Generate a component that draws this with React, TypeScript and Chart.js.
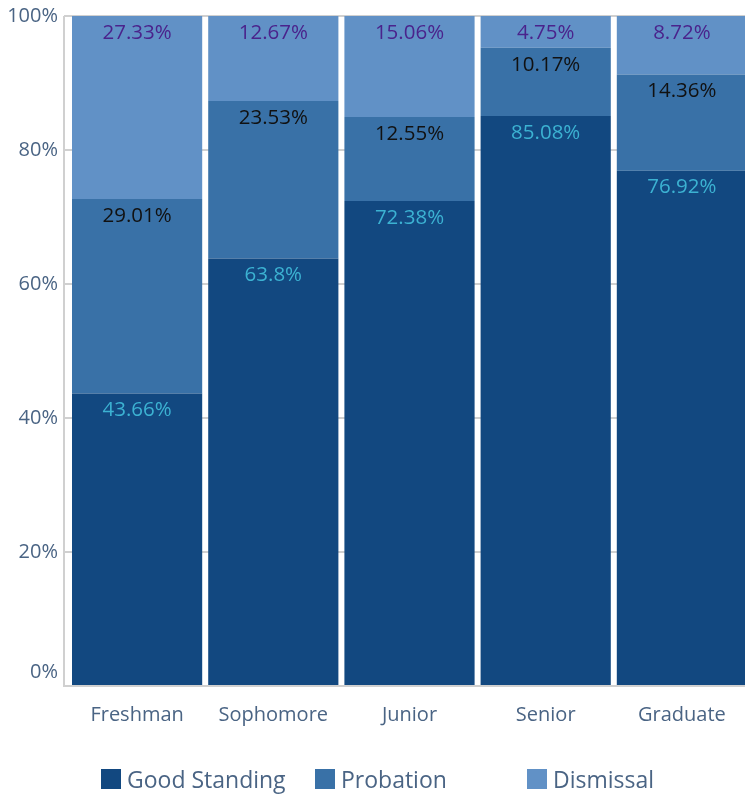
import React, { useEffect, useRef } from "react";
import { Chart, registerables } from "chart.js";

Chart.register(...registerables);

const categories = ["Freshman", "Sophomore", "Junior", "Senior", "Graduate"];
const seriesNames = ["Good Standing", "Probation", "Dismissal"];
const goodStanding = [43.66, 63.8, 72.38, 85.08, 76.92];
const probation = [29.01, 23.53, 12.55, 10.17, 14.36];
const dismissal = [27.33, 12.67, 15.06, 4.75, 8.72];
const yTickValues = [0, 20, 40, 60, 80, 100];

const barColors = ["#124880", "#3971a7", "#6191c6"];
const labelColors = ["#3cb2d2", "#111111", "#4a238c"];
const axisTextColor = "#4a6484";
const gridColor = "#d0d0d0";
const FONT = "'Open Sans', 'Noto Sans', sans-serif";

const segmentLabels = {
  id: "segmentLabels",
  afterDatasetsDraw(chart: any) {
    const ctx = chart.ctx;
    chart.data.datasets.forEach((ds: any, i: number) => {
      const meta = chart.getDatasetMeta(i);
      meta.data.forEach((bar: any, j: number) => {
        ctx.save();
        ctx.font = `20.5px ${FONT}`;
        ctx.fillStyle = labelColors[i];
        ctx.textAlign = "center";
        ctx.textBaseline = "middle";
        ctx.fillText(`${ds.data[j]}%`, bar.x, bar.y + 17);
        ctx.restore();
      });
    });
  },
};

const yAxisLine = {
  id: "yAxisLine",
  beforeDatasetsDraw(chart: any) {
    const { ctx, chartArea } = chart;
    ctx.save();
    ctx.fillStyle = gridColor;
    ctx.fillRect(chartArea.left - 6, chartArea.top, 2, chartArea.bottom - chartArea.top + 1);
    ctx.restore();
  },
};

export default function App() {
  const ref = useRef<HTMLCanvasElement | null>(null);

  useEffect(() => {
    if (!ref.current) return;
    const chart = new Chart(ref.current, {
      type: "bar",
      data: {
        labels: categories,
        datasets: [goodStanding, probation, dismissal].map((d, i) => ({
          label: seriesNames[i],
          data: d,
          backgroundColor: barColors[i],
          borderWidth: 0,
          barPercentage: 1,
          categoryPercentage: 130 / 136,
        })),
      },
      options: {
        responsive: false,
        animation: false,
        layout: { padding: { top: 16, bottom: 58, left: 0, right: 0 } },
        plugins: {
          legend: { display: false },
          tooltip: { enabled: false },
        },
        scales: {
          x: {
            stacked: true,
            grid: { display: false, drawTicks: false },
            border: { display: true, color: gridColor, width: 2 },
            ticks: { color: axisTextColor, font: { family: FONT, size: 20 }, padding: 17 },
            afterFit: (s: any) => {
              s.height = 50;
            },
          },
          y: {
            stacked: true,
            min: 0,
            max: 100,
            afterBuildTicks: (s: any) => {
              s.ticks = yTickValues.map((v) => ({ value: v }));
            },
            grid: { color: gridColor, lineWidth: 2, tickLength: 5 },
            border: { display: false },
            ticks: {
              color: axisTextColor,
              font: { family: FONT, size: 20, lineHeight: 1.4 },
              padding: 6,
              callback: (v: any) => (v === 0 ? ["0%", ""] : `${v}%`),
            },
            afterFit: (s: any) => {
              s.width = 69;
              s.paddingTop = 10;
              s.paddingBottom = 0;
            },
          },
        },
      },
      plugins: [yAxisLine, segmentLabels],
    });
    return () => chart.destroy();
  }, []);

  const legendX = [101, 315, 527];

  return (
    <div
      style={{
        position: "absolute",
        left: 0,
        top: 0,
        width: 745,
        height: 794,
        overflow: "hidden",
        background: "#fff",
      }}
    >
      <canvas ref={ref} width={750} height={794} style={{ display: "block", width: 750, height: 794 }} />
      {seriesNames.map((name, i) => (
        <div
          key={name}
          style={{
            position: "absolute",
            left: legendX[i],
            top: 764,
            height: 30,
            display: "flex",
            alignItems: "center",
            fontFamily: FONT,
            fontSize: 23,
            color: axisTextColor,
            whiteSpace: "nowrap",
          }}
        >
          <span style={{ display: "inline-block", width: 20, height: 20, background: barColors[i], marginRight: 6 }} />
          <span>{name}</span>
        </div>
      ))}
    </div>
  );
}
